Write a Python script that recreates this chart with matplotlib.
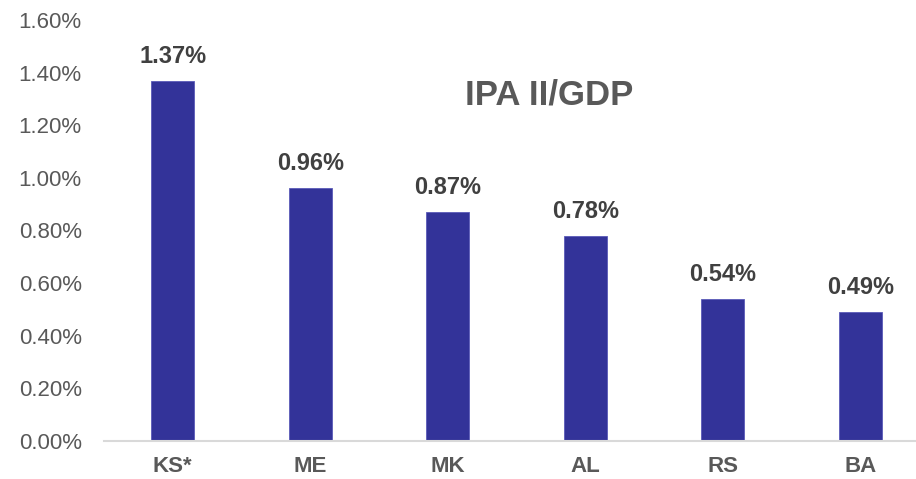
import matplotlib
matplotlib.use("Agg")
import matplotlib.pyplot as plt
from matplotlib.ticker import FuncFormatter, MultipleLocator

categories = ["KS*", "ME", "MK", "AL", "RS", "BA"]
values = [1.37, 0.96, 0.87, 0.78, 0.54, 0.49]
title = "IPA II/GDP"

plt.rcParams['font.family'] = ['Liberation Sans', 'DejaVu Sans']

W, H = 916, 479
fig = plt.figure(figsize=(W / 100, H / 100), dpi=100)
left, right = 104, 929
top, bottom = 20, 441
ax = fig.add_axes([left / W, 1 - bottom / H, (right - left) / W, (bottom - top) / H])

x = list(range(len(categories)))
ax.bar(x, values, width=0.31, color="#333399", edgecolor="#5a5ab8", linewidth=0.6, zorder=2)
ax.set_xlim(-0.5, len(categories) - 0.5)
ax.set_ylim(0, 1.60)
ax.yaxis.set_major_locator(MultipleLocator(0.20))
ax.yaxis.set_major_formatter(FuncFormatter(lambda v, p: f"{v:.2f}%"))

for s in ["top", "right", "left"]:
    ax.spines[s].set_visible(False)
ax.spines["bottom"].set_color("#d9d9d9")
ax.spines["bottom"].set_linewidth(1.5)

ax.set_xticks(x)
ax.set_xticklabels(categories, fontsize=16, fontweight="bold", color="#595959")
ax.tick_params(axis="x", length=0, pad=11)
ax.tick_params(axis="y", length=0, labelsize=16, labelcolor="#595959", pad=16)

for xi, v in zip(x, values):
    ax.annotate(f"{v:.2f}%", (xi, v), xytext=(0, 13), textcoords="offset pixels",
                ha="center", va="bottom", fontsize=17, fontweight="bold", color="#404040")

fig.text(549.5 / W, 1 - 95 / H, title, ha="center", va="center", fontsize=25,
         fontweight="bold", color="#595959")

fig.savefig("out.png", dpi=100)
